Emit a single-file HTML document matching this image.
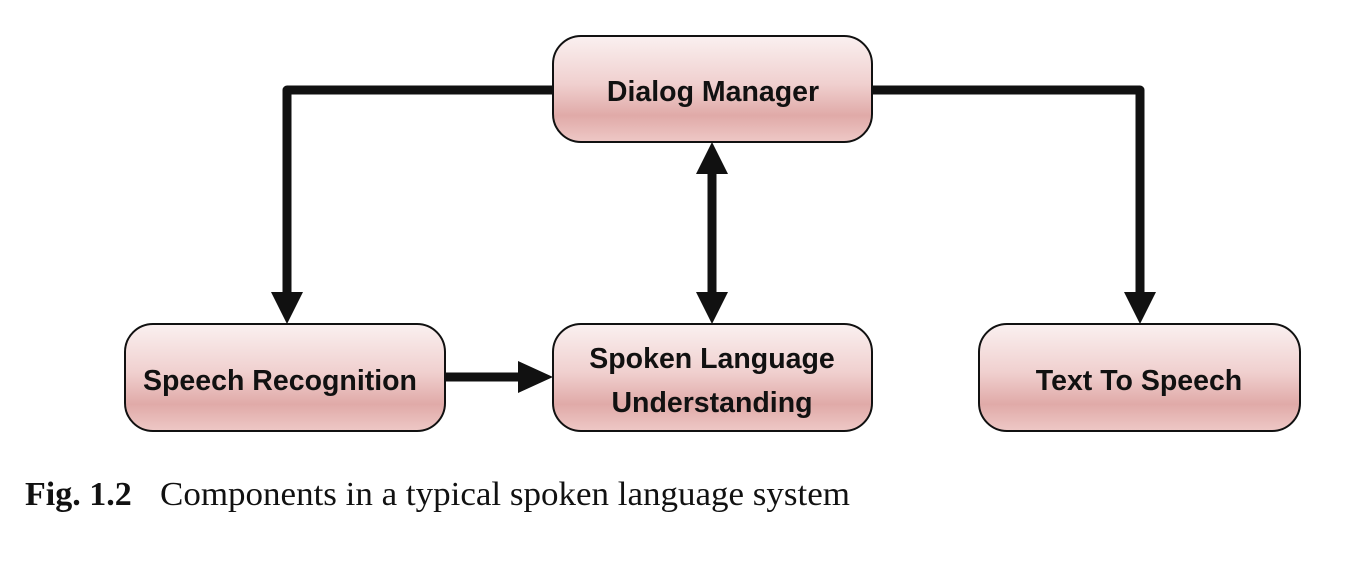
<!DOCTYPE html>
<html><head><style>body{margin:0;background:#fff}</style></head><body>
<svg width="1346" height="562" viewBox="0 0 1346 562" xmlns="http://www.w3.org/2000/svg">
<defs>
<linearGradient id="g" x1="0" y1="0" x2="0" y2="1">
<stop offset="0" stop-color="#faf0f0"/>
<stop offset="0.45" stop-color="#f0d0cf"/>
<stop offset="0.75" stop-color="#e0aaa8"/>
<stop offset="1" stop-color="#eec8c6"/>
</linearGradient>
</defs>
<g fill="none" stroke="#111" stroke-width="9" stroke-linejoin="round">
<polyline points="553,90 287,90 287,296"/>
<polyline points="872,90 1140,90 1140,296"/>
<line x1="712" y1="170" x2="712" y2="296"/>
<line x1="445" y1="377" x2="522" y2="377"/>
</g>
<g fill="#111">
<polygon points="271,292 303,292 287,324"/>
<polygon points="1124,292 1156,292 1140,324"/>
<polygon points="696,174 728,174 712,142"/>
<polygon points="696,292 728,292 712,324"/>
<polygon points="518,361 518,393 553,377"/>
</g>
<g stroke="#111" stroke-width="2" fill="url(#g)">
<rect x="553" y="36" width="319" height="106" rx="28"/>
<rect x="125" y="324" width="320" height="107" rx="28"/>
<rect x="553" y="324" width="319" height="107" rx="28"/>
<rect x="979" y="324" width="321" height="107" rx="28"/>
</g>
<g font-family="Liberation Sans, sans-serif" font-weight="bold" font-size="28.5" fill="#111" text-anchor="middle">
<text x="713" y="101">Dialog Manager</text>
<text x="280" y="390">Speech Recognition</text>
<text x="712" y="368">Spoken Language</text>
<text x="712" y="412">Understanding</text>
<text x="1139" y="390">Text To Speech</text>
</g>
<text x="25" y="505" font-family="Liberation Serif, serif" font-size="34" fill="#111"><tspan font-weight="bold">Fig. 1.2</tspan><tspan x="160" textLength="690" lengthAdjust="spacingAndGlyphs">Components in a typical spoken language system</tspan></text>
</svg>
</body></html>
